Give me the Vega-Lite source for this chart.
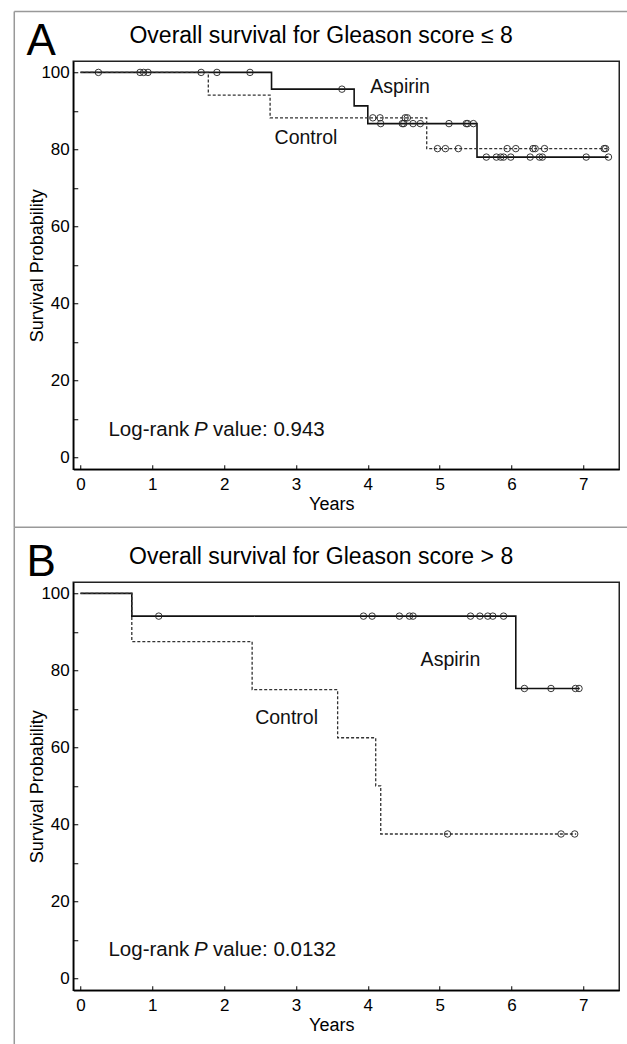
{
  "$schema": "https://vega.github.io/schema/vega-lite/v6.json",
  "background": "white",
  "padding": {"left": 12.25, "top": 9.25, "right": 0, "bottom": 0},
  "bounds": "flush",
  "spacing": 113,
  "datasets": {
    "one": [{"frame": 1}],
    "km": [
      {"panel": "A", "group": "Aspirin", "t": 0, "s": 100},
      {"panel": "A", "group": "Aspirin", "t": 2.66, "s": 95.65},
      {"panel": "A", "group": "Aspirin", "t": 3.81, "s": 91.3},
      {"panel": "A", "group": "Aspirin", "t": 4.0, "s": 86.7},
      {"panel": "A", "group": "Aspirin", "t": 5.52, "s": 78.0},
      {"panel": "A", "group": "Aspirin", "t": 7.35, "s": 78.0},
      {"panel": "A", "group": "Control", "t": 0, "s": 100},
      {"panel": "A", "group": "Control", "t": 1.78, "s": 94.1},
      {"panel": "A", "group": "Control", "t": 2.64, "s": 88.2},
      {"panel": "A", "group": "Control", "t": 4.82, "s": 80.2},
      {"panel": "A", "group": "Control", "t": 7.33, "s": 80.2},
      {"panel": "B", "group": "Aspirin", "t": 0, "s": 100},
      {"panel": "B", "group": "Aspirin", "t": 0.715, "s": 94.1},
      {"panel": "B", "group": "Aspirin", "t": 6.06, "s": 75.3},
      {"panel": "B", "group": "Aspirin", "t": 6.95, "s": 75.3},
      {"panel": "B", "group": "Control", "t": 0, "s": 100},
      {"panel": "B", "group": "Control", "t": 0.715, "s": 87.5},
      {"panel": "B", "group": "Control", "t": 2.39, "s": 75},
      {"panel": "B", "group": "Control", "t": 3.58, "s": 62.5},
      {"panel": "B", "group": "Control", "t": 4.11, "s": 50},
      {"panel": "B", "group": "Control", "t": 4.18, "s": 37.5},
      {"panel": "B", "group": "Control", "t": 6.9, "s": 37.5}
    ],
    "cens": [
      {"panel": "A", "group": "Aspirin", "t": 0.25, "s": 100},
      {"panel": "A", "group": "Aspirin", "t": 0.83, "s": 100},
      {"panel": "A", "group": "Aspirin", "t": 0.88, "s": 100},
      {"panel": "A", "group": "Aspirin", "t": 0.94, "s": 100},
      {"panel": "A", "group": "Aspirin", "t": 1.68, "s": 100},
      {"panel": "A", "group": "Aspirin", "t": 1.9, "s": 100},
      {"panel": "A", "group": "Aspirin", "t": 2.36, "s": 100},
      {"panel": "A", "group": "Aspirin", "t": 3.64, "s": 95.65},
      {"panel": "A", "group": "Aspirin", "t": 4.18, "s": 86.7},
      {"panel": "A", "group": "Aspirin", "t": 4.48, "s": 86.7},
      {"panel": "A", "group": "Aspirin", "t": 4.5, "s": 86.7},
      {"panel": "A", "group": "Aspirin", "t": 4.63, "s": 86.7},
      {"panel": "A", "group": "Aspirin", "t": 4.73, "s": 86.7},
      {"panel": "A", "group": "Aspirin", "t": 5.13, "s": 86.7},
      {"panel": "A", "group": "Aspirin", "t": 5.37, "s": 86.7},
      {"panel": "A", "group": "Aspirin", "t": 5.39, "s": 86.7},
      {"panel": "A", "group": "Aspirin", "t": 5.47, "s": 86.7},
      {"panel": "A", "group": "Aspirin", "t": 5.65, "s": 78.0},
      {"panel": "A", "group": "Aspirin", "t": 5.79, "s": 78.0},
      {"panel": "A", "group": "Aspirin", "t": 5.85, "s": 78.0},
      {"panel": "A", "group": "Aspirin", "t": 5.89, "s": 78.0},
      {"panel": "A", "group": "Aspirin", "t": 5.99, "s": 78.0},
      {"panel": "A", "group": "Aspirin", "t": 6.26, "s": 78.0},
      {"panel": "A", "group": "Aspirin", "t": 6.39, "s": 78.0},
      {"panel": "A", "group": "Aspirin", "t": 6.43, "s": 78.0},
      {"panel": "A", "group": "Aspirin", "t": 7.04, "s": 78.0},
      {"panel": "A", "group": "Aspirin", "t": 7.35, "s": 78.0},
      {"panel": "A", "group": "Control", "t": 4.07, "s": 88.2},
      {"panel": "A", "group": "Control", "t": 4.17, "s": 88.2},
      {"panel": "A", "group": "Control", "t": 4.52, "s": 88.2},
      {"panel": "A", "group": "Control", "t": 4.55, "s": 88.2},
      {"panel": "A", "group": "Control", "t": 4.97, "s": 80.2},
      {"panel": "A", "group": "Control", "t": 5.08, "s": 80.2},
      {"panel": "A", "group": "Control", "t": 5.26, "s": 80.2},
      {"panel": "A", "group": "Control", "t": 5.94, "s": 80.2},
      {"panel": "A", "group": "Control", "t": 6.06, "s": 80.2},
      {"panel": "A", "group": "Control", "t": 6.3, "s": 80.2},
      {"panel": "A", "group": "Control", "t": 6.33, "s": 80.2},
      {"panel": "A", "group": "Control", "t": 6.46, "s": 80.2},
      {"panel": "A", "group": "Control", "t": 7.29, "s": 80.2},
      {"panel": "A", "group": "Control", "t": 7.31, "s": 80.2},
      {"panel": "B", "group": "Aspirin", "t": 1.09, "s": 94.1},
      {"panel": "B", "group": "Aspirin", "t": 3.94, "s": 94.1},
      {"panel": "B", "group": "Aspirin", "t": 4.06, "s": 94.1},
      {"panel": "B", "group": "Aspirin", "t": 4.44, "s": 94.1},
      {"panel": "B", "group": "Aspirin", "t": 4.58, "s": 94.1},
      {"panel": "B", "group": "Aspirin", "t": 4.63, "s": 94.1},
      {"panel": "B", "group": "Aspirin", "t": 5.43, "s": 94.1},
      {"panel": "B", "group": "Aspirin", "t": 5.56, "s": 94.1},
      {"panel": "B", "group": "Aspirin", "t": 5.67, "s": 94.1},
      {"panel": "B", "group": "Aspirin", "t": 5.74, "s": 94.1},
      {"panel": "B", "group": "Aspirin", "t": 5.89, "s": 94.1},
      {"panel": "B", "group": "Aspirin", "t": 6.18, "s": 75.3},
      {"panel": "B", "group": "Aspirin", "t": 6.55, "s": 75.3},
      {"panel": "B", "group": "Aspirin", "t": 6.89, "s": 75.3},
      {"panel": "B", "group": "Aspirin", "t": 6.94, "s": 75.3},
      {"panel": "B", "group": "Control", "t": 5.11, "s": 37.5},
      {"panel": "B", "group": "Control", "t": 6.69, "s": 37.5},
      {"panel": "B", "group": "Control", "t": 6.88, "s": 37.5}
    ],
    "ann": [
      {"panel": "A", "kind": "series", "label": "Aspirin", "t": 4.45, "s": 96.3},
      {"panel": "A", "kind": "series", "label": "Control", "t": 3.14, "s": 82.9},
      {"panel": "A", "kind": "letter", "label": "A", "t": -0.545, "s": 104.64},
      {"panel": "A", "kind": "title", "label": "Overall survival for Gleason score ≤ 8", "t": 3.35, "s": 107.7},
      {"panel": "A", "kind": "lr", "label": "Log-rank", "t": 0.39, "s": 7.1},
      {"panel": "A", "kind": "lrP", "label": "P", "t": 1.58, "s": 7.1},
      {"panel": "A", "kind": "lr", "label": "value: 0.943", "t": 1.845, "s": 7.1},
      {"panel": "B", "kind": "series", "label": "Aspirin", "t": 5.15, "s": 82.7},
      {"panel": "B", "kind": "series", "label": "Control", "t": 2.87, "s": 67.7},
      {"panel": "B", "kind": "letter", "label": "B", "t": -0.545, "s": 104.64},
      {"panel": "B", "kind": "title", "label": "Overall survival for Gleason score > 8", "t": 3.35, "s": 107.7},
      {"panel": "B", "kind": "lr", "label": "Log-rank", "t": 0.39, "s": 7.4},
      {"panel": "B", "kind": "lrP", "label": "P", "t": 1.58, "s": 7.4},
      {"panel": "B", "kind": "lr", "label": "value: 0.0132", "t": 1.845, "s": 7.4}
    ]
  },
  "vconcat": [
    {
      "width": 546,
      "height": 408,
      "layer": [
        {
          "data": {"name": "one"},
          "mark": {"type": "rule", "color": "#999", "strokeWidth": 1.5},
          "encoding": {"x": {"datum": -0.921}, "x2": {"datum": 7.625}, "y": {"datum": 115.8}}
        },
        {
          "data": {"name": "one"},
          "mark": {"type": "rule", "color": "#999", "strokeWidth": 1.5},
          "encoding": {"x": {"datum": -0.921}, "y": {"datum": 115.8}, "y2": {"datum": -18.17}}
        },
        {
          "data": {"name": "one"},
          "mark": {"type": "rule", "color": "#999", "strokeWidth": 1.5},
          "encoding": {"x": {"datum": -0.921}, "x2": {"datum": 7.625}, "y": {"datum": -18.17}}
        },
        {
          "data": {"name": "km"},
          "transform": [{"filter": "datum.panel === 'A'"}],
          "mark": {"type": "line", "interpolate": "step-after"},
          "encoding": {
            "x": {"field": "t", "type": "quantitative", "scale": {"domain": [-0.1, 7.5], "nice": false, "zero": false},
              "axis": {"title": "Years", "format": "d", "values": [0,0.25,0.5,0.75,1,1.25,1.5,1.75,2,2.25,2.5,2.75,3,3.25,3.5,3.75,4,4.25,4.5,4.75,5,5.25,5.5,5.75,6,6.25,6.5,6.75,7,7.25], "labelExpr": "datum.value % 1 === 0 ? datum.label : ''", "titleX": 258, "titleY": 35.6, "titleBaseline": "middle", "labelPadding": 12}},
            "y": {"field": "s", "type": "quantitative", "scale": {"domain": [-3.1, 102.9], "nice": false, "zero": false},
              "axis": {"title": "Survival Probability", "format": "d", "values": [0,5,10,15,20,25,30,35,40,45,50,55,60,65,70,75,80,85,90,95,100], "labelExpr": "datum.value % 20 === 0 ? datum.label : ''", "titleX": -36, "titleY": 204, "titleBaseline": "middle", "titleAlign": "center", "labelPadding": 8.5}},
            "detail": {"field": "group"},
            "strokeDash": {"field": "group", "type": "nominal", "scale": {"domain": ["Aspirin", "Control"], "range": [[1, 0], [3, 2]]}, "legend": null},
            "color": {"field": "group", "type": "nominal", "scale": {"domain": ["Aspirin", "Control"], "range": ["#111111", "#333333"]}, "legend": null},
            "strokeWidth": {"field": "group", "type": "nominal", "scale": {"domain": ["Aspirin", "Control"], "range": [1.6, 1.3]}, "legend": null}
          }
        },
        {
          "data": {"name": "cens"},
          "transform": [{"filter": "datum.panel === 'A'"}],
          "mark": {"type": "point", "shape": "circle", "filled": false, "size": 42, "stroke": "#222", "strokeWidth": 0.9, "opacity": 1},
          "encoding": {"x": {"field": "t", "type": "quantitative"}, "y": {"field": "s", "type": "quantitative"}}
        },
        {
          "data": {"name": "ann"},
          "transform": [{"filter": "datum.panel === 'A' && datum.kind === 'series'"}],
          "mark": {"type": "text", "fontSize": 19.5, "align": "center", "baseline": "middle", "color": "#111"},
          "encoding": {"x": {"field": "t", "type": "quantitative"}, "y": {"field": "s", "type": "quantitative"}, "text": {"field": "label"}}
        },
        {
          "data": {"name": "ann"},
          "transform": [{"filter": "datum.panel === 'A' && datum.kind === 'lr'"}],
          "mark": {"type": "text", "fontSize": 20.5, "align": "left", "baseline": "middle", "color": "#111"},
          "encoding": {"x": {"field": "t", "type": "quantitative"}, "y": {"field": "s", "type": "quantitative"}, "text": {"field": "label"}}
        },
        {
          "data": {"name": "ann"},
          "transform": [{"filter": "datum.panel === 'A' && datum.kind === 'lrP'"}],
          "mark": {"type": "text", "fontSize": 20.5, "fontStyle": "italic", "align": "left", "baseline": "middle", "color": "#111"},
          "encoding": {"x": {"field": "t", "type": "quantitative"}, "y": {"field": "s", "type": "quantitative"}, "text": {"field": "label"}}
        },
        {
          "data": {"name": "ann"},
          "transform": [{"filter": "datum.panel === 'A' && datum.kind === 'letter'"}],
          "mark": {"type": "text", "fontSize": 44, "align": "center", "baseline": "alphabetic", "color": "#000"},
          "encoding": {"x": {"field": "t", "type": "quantitative"}, "y": {"field": "s", "type": "quantitative"}, "text": {"field": "label"}}
        },
        {
          "data": {"name": "ann"},
          "transform": [{"filter": "datum.panel === 'A' && datum.kind === 'title'"}],
          "mark": {"type": "text", "fontSize": 23, "align": "center", "baseline": "alphabetic", "color": "#000"},
          "encoding": {"x": {"field": "t", "type": "quantitative"}, "y": {"field": "s", "type": "quantitative"}, "text": {"field": "label"}}
        }
      ]
    },
    {
      "width": 546,
      "height": 408,
      "layer": [
        {
          "data": {"name": "one"},
          "mark": {"type": "rule", "color": "#999", "strokeWidth": 1.5},
          "encoding": {"x": {"datum": -0.921}, "y": {"datum": 117.2}, "y2": {"datum": -17.47}}
        },
        {
          "data": {"name": "km"},
          "transform": [{"filter": "datum.panel === 'B'"}],
          "mark": {"type": "line", "interpolate": "step-after"},
          "encoding": {
            "x": {"field": "t", "type": "quantitative", "scale": {"domain": [-0.1, 7.5], "nice": false, "zero": false},
              "axis": {"title": "Years", "format": "d", "values": [0,0.25,0.5,0.75,1,1.25,1.5,1.75,2,2.25,2.5,2.75,3,3.25,3.5,3.75,4,4.25,4.5,4.75,5,5.25,5.5,5.75,6,6.25,6.5,6.75,7,7.25], "labelExpr": "datum.value % 1 === 0 ? datum.label : ''", "titleX": 258, "titleY": 35.6, "titleBaseline": "middle", "labelPadding": 12}},
            "y": {"field": "s", "type": "quantitative", "scale": {"domain": [-3.1, 102.9], "nice": false, "zero": false},
              "axis": {"title": "Survival Probability", "format": "d", "values": [0,5,10,15,20,25,30,35,40,45,50,55,60,65,70,75,80,85,90,95,100], "labelExpr": "datum.value % 20 === 0 ? datum.label : ''", "titleX": -36, "titleY": 204, "titleBaseline": "middle", "titleAlign": "center", "labelPadding": 8.5}},
            "detail": {"field": "group"},
            "strokeDash": {"field": "group", "type": "nominal", "scale": {"domain": ["Aspirin", "Control"], "range": [[1, 0], [3, 2]]}, "legend": null},
            "color": {"field": "group", "type": "nominal", "scale": {"domain": ["Aspirin", "Control"], "range": ["#111111", "#333333"]}, "legend": null},
            "strokeWidth": {"field": "group", "type": "nominal", "scale": {"domain": ["Aspirin", "Control"], "range": [1.6, 1.3]}, "legend": null}
          }
        },
        {
          "data": {"name": "cens"},
          "transform": [{"filter": "datum.panel === 'B'"}],
          "mark": {"type": "point", "shape": "circle", "filled": false, "size": 42, "stroke": "#222", "strokeWidth": 0.9, "opacity": 1},
          "encoding": {"x": {"field": "t", "type": "quantitative"}, "y": {"field": "s", "type": "quantitative"}}
        },
        {
          "data": {"name": "ann"},
          "transform": [{"filter": "datum.panel === 'B' && datum.kind === 'series'"}],
          "mark": {"type": "text", "fontSize": 19.5, "align": "center", "baseline": "middle", "color": "#111"},
          "encoding": {"x": {"field": "t", "type": "quantitative"}, "y": {"field": "s", "type": "quantitative"}, "text": {"field": "label"}}
        },
        {
          "data": {"name": "ann"},
          "transform": [{"filter": "datum.panel === 'B' && datum.kind === 'lr'"}],
          "mark": {"type": "text", "fontSize": 20.5, "align": "left", "baseline": "middle", "color": "#111"},
          "encoding": {"x": {"field": "t", "type": "quantitative"}, "y": {"field": "s", "type": "quantitative"}, "text": {"field": "label"}}
        },
        {
          "data": {"name": "ann"},
          "transform": [{"filter": "datum.panel === 'B' && datum.kind === 'lrP'"}],
          "mark": {"type": "text", "fontSize": 20.5, "fontStyle": "italic", "align": "left", "baseline": "middle", "color": "#111"},
          "encoding": {"x": {"field": "t", "type": "quantitative"}, "y": {"field": "s", "type": "quantitative"}, "text": {"field": "label"}}
        },
        {
          "data": {"name": "ann"},
          "transform": [{"filter": "datum.panel === 'B' && datum.kind === 'letter'"}],
          "mark": {"type": "text", "fontSize": 44, "align": "center", "baseline": "alphabetic", "color": "#000"},
          "encoding": {"x": {"field": "t", "type": "quantitative"}, "y": {"field": "s", "type": "quantitative"}, "text": {"field": "label"}}
        },
        {
          "data": {"name": "ann"},
          "transform": [{"filter": "datum.panel === 'B' && datum.kind === 'title'"}],
          "mark": {"type": "text", "fontSize": 23, "align": "center", "baseline": "alphabetic", "color": "#000"},
          "encoding": {"x": {"field": "t", "type": "quantitative"}, "y": {"field": "s", "type": "quantitative"}, "text": {"field": "label"}}
        }
      ]
    }
  ],
  "config": {
    "font": "Liberation Sans",
    "view": {"stroke": "#222", "strokeWidth": 1.5},
    "text": {"font": "Liberation Sans"},
    "axis": {
      "grid": false,
      "domainColor": "#000",
      "domainWidth": 1.5,
      "tickColor": "#000",
      "tickWidth": 1,
      "tickSize": -4.5,
      "labelFont": "Liberation Sans",
      "labelFontSize": 17,
      "labelColor": "#000",
      "labelOverlap": false,
      "labelFlush": false,
      "titleFont": "Liberation Sans",
      "titleFontSize": 18,
      "titleFontWeight": "normal",
      "titleColor": "#000"
    }
  }
}
